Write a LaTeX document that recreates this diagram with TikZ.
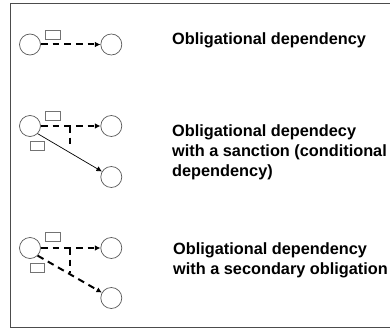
\documentclass[tikz,border=0pt]{standalone}
\usepackage{fontspec}
\setmainfont{Liberation Sans}
\usetikzlibrary{arrows.meta}
\tikzset{
  obj/.style={circle, draw=black!65, line width=0.7pt, minimum size=21pt, inner sep=0pt},
  tag/.style={rectangle, draw=black!55, line width=0.7pt, minimum width=14.6pt, minimum height=9pt, inner sep=0pt},
  dep/.style={line width=2pt, dash pattern=on 6.7pt off 5pt, -{Latex[length=5.5pt,width=5.5pt]}},
  stub/.style={line width=2pt, dash pattern=on 6.7pt off 5pt},
  sanc/.style={line width=0.7pt, -{Latex[length=5.5pt,width=5.5pt]}},
  lab/.style={anchor=base west, inner sep=0pt, font=\fontsize{16.3}{20}\selectfont\bfseries}
}
\begin{document}
\begin{tikzpicture}[x=1pt,y=-1pt]
\useasboundingbox (0,0) rectangle (390,329);
\draw[black!70, line width=1pt] (390,4) -- (10,4) -- (10,327.5) -- (390,327.5);
% diagram 1
\node[obj] (a1) at (30,44.5) {};
\node[obj] (b1) at (111.3,44.5) {};
\node[tag] (r1) at (53,34.5) {};
\draw[dep] (a1) -- (b1);
\node[lab] (t1) at (172,45) {Obligational dependency};
% diagram 2
\node[obj] (a2) at (30,126) {};
\node[obj] (b2) at (111.3,126) {};
\node[obj] (c2) at (111.3,177) {};
\node[tag] (r2) at (53,115.5) {};
\node[tag] (s2) at (37.5,146) {};
\coordinate (j2) at (70,126);
\coordinate (e2) at (70,145.5);
\draw[dep] (a2) -- (b2);
\draw[stub] (j2) -- (e2);
\draw[sanc] (a2.-45) -- (c2);
\node[lab] (t2a) at (172,136) {Obligational dependecy};
\node[lab] (t2b) at (172,156) {with a sanction (conditional};
\node[lab] (t2c) at (172,176) {dependency)};
% diagram 3
\node[obj] (a3) at (30,248) {};
\node[obj] (b3) at (111.3,248) {};
\node[obj] (c3) at (111.3,298) {};
\node[tag] (r3) at (53,237) {};
\node[tag] (s3) at (37.5,267.5) {};
\coordinate (j3) at (70,248);
\coordinate (e3) at (70,273);
\draw[dep] (a3) -- (b3);
\draw[stub] (j3) -- (e3);
\draw[dep] (a3.-45) -- (c3);
\node[lab] (t3a) at (173,254) {Obligational dependency};
\node[lab] (t3b) at (173,274) {with a secondary obligation};
\end{tikzpicture}
\end{document}
